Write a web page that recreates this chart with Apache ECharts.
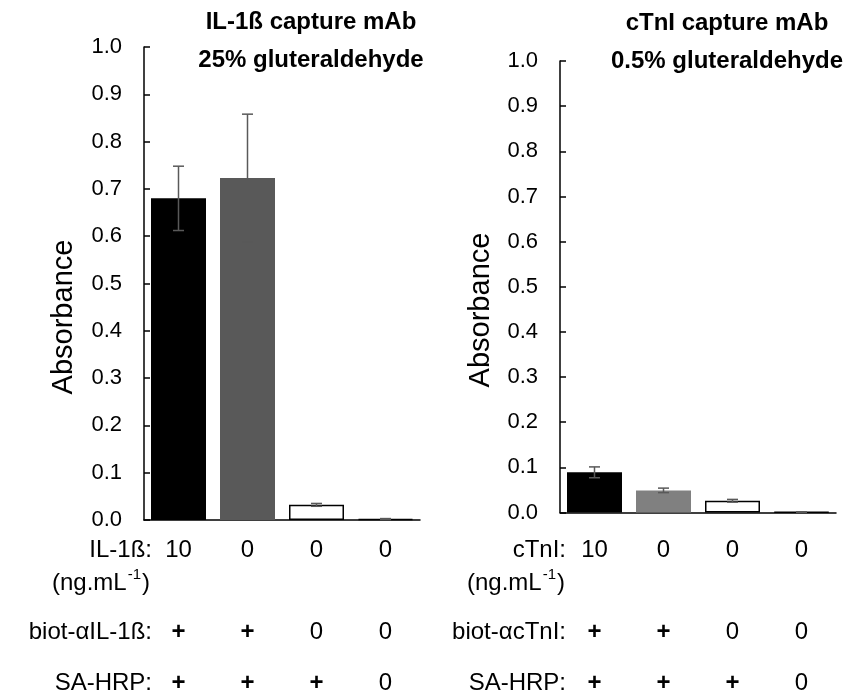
<!DOCTYPE html>
<html>
<head>
<meta charset="utf-8">
<script src="https://cdn.jsdelivr.net/npm/echarts@6/dist/echarts.min.js"></script>
</head>
<body style="margin:0;background:#fff;">
<div id="chart" style="width:858px;height:699px;"></div>
<script type="text/javascript">
    // data
    var ilConc = ['10', '0', '0', '0'];
    var ilBiot = ['+', '+', '0', '0'];
    var ilSA = ['+', '+', '+', '0'];
    var ilMean = [0.680, 0.723, 0.032, 0.002];
    var ilErr = [0.068, 0.135, 0.003, 0.001];

    var ctConc = ['10', '0', '0', '0'];
    var ctBiot = ['+', '+', '0', '0'];
    var ctSA = ['+', '+', '+', '0'];
    var ctMean = [0.089, 0.049, 0.026, 0.001];
    var ctErr = [0.012, 0.005, 0.003, 0.0005];

    var yTicks = ['0.0', '0.1', '0.2', '0.3', '0.4', '0.5', '0.6', '0.7', '0.8', '0.9', '1.0'];

    var FONT = 'Liberation Sans, Arial, sans-serif';
    var ilColors = ['#000000', '#595959', '#ffffff', '#ffffff'];
    var ctColors = ['#000000', '#808080', '#ffffff', '#ffffff'];

    var myChart = echarts.init(document.getElementById('chart'));

    function barData(vals, colors) {
        return vals.map(function (v, i) {
            return {
                value: v,
                itemStyle: { color: colors[i], borderColor: '#000', borderWidth: colors[i] == '#ffffff' ? 1.5 : 0 }
            };
        });
    }
    function errData(vals, errs) {
        return vals.map(function (v, i) { return [i, v, errs[i]]; });
    }
    // error bar: vertical line + caps
    function renderErr(params, api) {
        var x = api.value(0), m = api.value(1), e = api.value(2);
        var hi = api.coord([x, m + e]);
        var lo = api.coord([x, m - e]);
        var w = 5.5;
        var st = { stroke: '#595959', lineWidth: 1.5 };
        return {
            type: 'group',
            children: [
                { type: 'line', shape: { x1: hi[0], y1: hi[1], x2: lo[0], y2: lo[1] }, style: st },
                { type: 'line', shape: { x1: hi[0] - w, y1: hi[1], x2: hi[0] + w, y2: hi[1] }, style: st },
                { type: 'line', shape: { x1: lo[0] - w, y1: lo[1], x2: lo[0] + w, y2: lo[1] }, style: st }
            ]
        };
    }
    function rowLabel(arr) {
        return function (v, i) { return arr[i] == '+' ? '{b|+}' : '{n|' + arr[i] + '}'; };
    }
    var rowRich = {
        b: { fontFamily: FONT, fontSize: 24, fontWeight: 'bold', color: '#000' },
        n: { fontFamily: FONT, fontSize: 24, color: '#000' }
    };
    function mainX(grid, conc) {
        return {
            type: 'category', gridIndex: grid, data: conc,
            axisLine: { lineStyle: { color: '#000', width: 1.5 } },
            axisTick: { alignWithLabel: true, length: 5, lineStyle: { color: '#000', width: 1.5 } },
            axisLabel: { margin: grid == 0 ? 30 : 37.5, verticalAlign: 'middle', formatter: rowLabel(conc), rich: rowRich },
            splitLine: { show: false }
        };
    }
    // only draws the tick at the right end of the axis
    function endTickX(grid, conc) {
        return {
            type: 'category', gridIndex: grid, data: conc, position: 'bottom', offset: 0,
            axisLine: { show: false }, axisLabel: { show: false },
            axisTick: {
                length: 5, lineStyle: { color: '#000', width: 1.5 },
                interval: function (i) { return i === conc.length - 1; }
            },
            splitLine: { show: false }
        };
    }
    function rowX(grid, arr, off) {
        return {
            type: 'category', gridIndex: grid, data: arr, position: 'bottom', offset: off,
            axisLine: { show: false }, axisTick: { show: false },
            axisLabel: { margin: 0, verticalAlign: 'middle', formatter: rowLabel(arr), rich: rowRich },
            splitLine: { show: false }
        };
    }
    function yAx(grid) {
        return {
            type: 'value', gridIndex: grid, min: 0, max: 1, interval: 0.1,
            axisLine: { show: true, lineStyle: { color: '#000', width: 1.5 } },
            axisTick: { show: true, inside: true, length: 6, lineStyle: { color: '#000', width: 1.5 } },
            axisLabel: {
                margin: 22, fontFamily: FONT, fontSize: 22, color: '#000',
                formatter: function (v) { return yTicks[Math.round(v * 10)]; }
            },
            splitLine: { show: false }
        };
    }
    function txt(x, y, text, size, opt) {
        opt = opt || {};
        return {
            type: 'text', x: x, y: y, rotation: opt.rot || 0,
            style: {
                text: text, fill: '#000', fontFamily: FONT, fontSize: size,
                fontWeight: opt.bold ? 'bold' : 'normal',
                align: opt.align || 'right', verticalAlign: 'middle',
                lineHeight: opt.lh, rich: opt.rich
            }
        };
    }
    var supRich = {
        n: { fontFamily: FONT, fontSize: 24, color: '#000', lineHeight: 28, verticalAlign: 'bottom' },
        s: { fontFamily: FONT, fontSize: 15, color: '#000', lineHeight: 28, verticalAlign: 'top', padding: [0, 1, 10, 1] }
    };

    option = {
        backgroundColor: '#fff',
        animation: false,
        grid: [
            { left: 144, top: 47, width: 276, height: 473 },
            { left: 560, top: 61, width: 276, height: 451.5 }
        ],
        xAxis: [
            mainX(0, ilConc), rowX(0, ilBiot, 112), rowX(0, ilSA, 163),
            mainX(1, ctConc), rowX(1, ctBiot, 119.5), rowX(1, ctSA, 170.5),
            endTickX(0, ilConc), endTickX(1, ctConc)
        ],
        yAxis: [yAx(0), yAx(1)],
        series: [
            { type: 'bar', xAxisIndex: 0, yAxisIndex: 0, barWidth: 55, data: barData(ilMean, ilColors) },
            { type: 'custom', xAxisIndex: 0, yAxisIndex: 0, renderItem: renderErr, data: errData(ilMean, ilErr), z: 5 },
            { type: 'bar', xAxisIndex: 3, yAxisIndex: 1, barWidth: 55, data: barData(ctMean, ctColors) },
            { type: 'custom', xAxisIndex: 3, yAxisIndex: 1, renderItem: renderErr, data: errData(ctMean, ctErr), z: 5 }
        ],
        graphic: [
            // titles
            txt(311, 41, 'IL-1ß capture mAb\n25% gluteraldehyde', 24, { bold: true, align: 'center', lh: 38 }),
            txt(727, 42, 'cTnI capture mAb\n0.5% gluteraldehyde', 24, { bold: true, align: 'center', lh: 38 }),
            // y axis names
            txt(64, 317, 'Absorbance', 29, { rot: Math.PI / 2, align: 'center' }),
            txt(481, 310, 'Absorbance', 29, { rot: Math.PI / 2, align: 'center' }),
            // row headers, left
            txt(152, 550, 'IL-1ß:', 24),
            txt(150, 581, '{n|(ng.mL}{s|-1}{n|)}', 24, { rich: supRich }),
            txt(152, 632, 'biot-αIL-1ß:', 24),
            txt(152, 683, 'SA-HRP:', 24),
            // row headers, right
            txt(566, 550, 'cTnI:', 24),
            txt(565, 581, '{n|(ng.mL}{s|-1}{n|)}', 24, { rich: supRich }),
            txt(566, 632, 'biot-αcTnI:', 24),
            txt(566, 683, 'SA-HRP:', 24)
        ]
    };
    myChart.setOption(option);
</script>
</body>
</html>
